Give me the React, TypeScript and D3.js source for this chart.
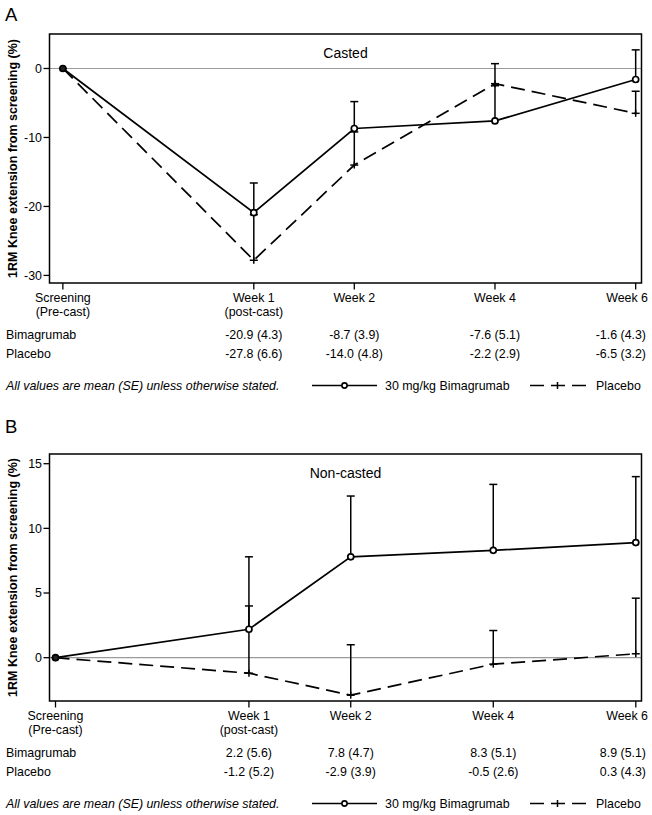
import React from "react";
import * as d3 from "d3";

// ---- data ----
const visitLabels: string[][] = [
  ["Screening", "(Pre-cast)"],
  ["Week 1", "(post-cast)"],
  ["Week 2"],
  ["Week 4"],
  ["Week 6"],
];
const visitDays: number[] = [-15, 4, 14, 28, 42];

const castedBim: number[] = [0, -20.9, -8.7, -7.6, -1.6];
const castedBimSE: number[] = [0, 4.3, 3.9, 5.1, 4.3];
const castedPbo: number[] = [0, -27.8, -14.0, -2.2, -6.5];
const castedPboSE: number[] = [0, 6.6, 4.8, 2.9, 3.2];

const nonBim: number[] = [0, 2.2, 7.8, 8.3, 8.9];
const nonBimSE: number[] = [0, 5.6, 4.7, 5.1, 5.1];
const nonPbo: number[] = [0, -1.2, -2.9, -0.5, 0.3];
const nonPboSE: number[] = [0, 5.2, 3.9, 2.6, 4.3];

const castedTicks: number[] = [0, -10, -20, -30];
const nonTicks: number[] = [0, 5, 10, 15];

const FONT = "'Liberation Sans', Arial, Helvetica, sans-serif";
const FS = 12.4;

type PanelProps = {
  letter: string;
  letterY: number;
  title: string;
  top: number;
  bottom: number;
  yDomain: [number, number];
  xDomain: [number, number];
  yTicks: number[];
  bim: number[];
  bimSE: number[];
  pbo: number[];
  pboSE: number[];
};

const LEFT = 49.5;
const RIGHT = 641.5;

function fmt(v: number, se: number) {
  return `${v.toFixed(1)} (${se.toFixed(1)})`;
}

function Panel(p: PanelProps) {
  const x = d3.scaleLinear().domain(p.xDomain).range([LEFT, RIGHT]);
  const y = d3.scaleLinear().domain(p.yDomain).range([p.bottom, p.top]);
  const pts = (vals: number[]) => vals.map((v, i) => [x(visitDays[i]), y(v)] as [number, number]);
  const line = d3.line();
  const bimPts = pts(p.bim);
  const pboPts = pts(p.pbo);
  const lastIdx = visitDays.length - 1;

  const errBar = (vals: number[], ses: number[], key: string) =>
    vals.map((v, i) => {
      if (i === 0) return null;
      const xx = x(visitDays[i]);
      const y0 = y(v);
      const y1 = y(v + ses[i]);
      return (
        <g key={key + i}>
          <line x1={xx} x2={xx} y1={y0} y2={y1} stroke="#000" strokeWidth={1.5} />
          <line x1={xx - 4} x2={xx + 4} y1={y1} y2={y1} stroke="#000" strokeWidth={1.5} />
        </g>
      );
    });

  const axisLabelY = p.bottom + 15;
  const rowBimY = p.bottom + 52;
  const rowPboY = p.bottom + 70.5;
  const footY = p.bottom + 102.5;
  const midY = (p.top + p.bottom) / 2;

  const labelX = (i: number) => (i === lastIdx ? 648 : x(visitDays[i]));
  const valX = (i: number) => (i === lastIdx ? 646 : x(visitDays[i]));
  const anchor = (i: number) => (i === lastIdx ? "end" : "middle");

  return (
    <g fontFamily={FONT}>
      <text x={5} y={p.letterY} fontSize={18.5} fill="#000">{p.letter}</text>
      {/* zero reference */}
      <line x1={LEFT} x2={RIGHT} y1={y(0)} y2={y(0)} stroke="#9a9a9a" strokeWidth={1.2} />
      <text x={(LEFT + RIGHT) / 2} y={p.top + 19} dy="0.35em" fontSize={14} textAnchor="middle">{p.title}</text>
      {/* lines */}
      <path d={line(bimPts) || ""} fill="none" stroke="#000" strokeWidth={1.7} />
      <path d={line(pboPts) || ""} fill="none" stroke="#000" strokeWidth={1.7} strokeDasharray="14 7" />
      {errBar(p.pbo, p.pboSE, "pe")}
      {errBar(p.bim, p.bimSE, "be")}
      {/* markers */}
      {pboPts.map(([px, py], i) => (
        <g key={"pm" + i}>
          <line x1={px - 4} x2={px + 4} y1={py} y2={py} stroke="#000" strokeWidth={1.5} />
          <line x1={px} x2={px} y1={py - 3.5} y2={py + 3.5} stroke="#000" strokeWidth={1.5} />
        </g>
      ))}
      {bimPts.map(([px, py], i) => (
        <circle key={"bm" + i} cx={px} cy={py} r={3} fill={i === 0 ? "#222" : "#fff"} stroke="#000" strokeWidth={1.7} />
      ))}
      {/* frame */}
      <rect x={LEFT} y={p.top} width={RIGHT - LEFT} height={p.bottom - p.top} fill="none" stroke="#000" strokeWidth={1.5} />
      {/* y ticks */}
      {p.yTicks.map((t) => (
        <g key={"yt" + t}>
          <line x1={LEFT - 6} x2={LEFT} y1={y(t)} y2={y(t)} stroke="#000" strokeWidth={1.3} />
          <text x={LEFT - 7.5} y={y(t)} dy="0.35em" fontSize={FS} textAnchor="end">{t}</text>
        </g>
      ))}
      <text
        transform={`translate(13,${midY}) rotate(-90)`}
        dy="0.35em"
        fontSize={12.5}
        fontWeight="bold"
        textAnchor="middle"
      >
        1RM Knee extension from screening (%)
      </text>
      {/* x ticks */}
      {visitDays.map((d, i) => (
        <g key={"xt" + i}>
          <line x1={x(d)} x2={x(d)} y1={p.bottom} y2={p.bottom + 6.5} stroke="#000" strokeWidth={1.3} />
          {visitLabels[i].map((s, j) => (
            <text key={j} x={labelX(i)} y={axisLabelY + j * 14} dy="0.35em" fontSize={FS} textAnchor={anchor(i)}>{s}</text>
          ))}
          {i > 0 && (
            <>
              <text x={valX(i)} y={rowBimY} dy="0.35em" fontSize={FS} textAnchor={anchor(i)}>{fmt(p.bim[i], p.bimSE[i])}</text>
              <text x={valX(i)} y={rowPboY} dy="0.35em" fontSize={FS} textAnchor={anchor(i)}>{fmt(p.pbo[i], p.pboSE[i])}</text>
            </>
          )}
        </g>
      ))}
      <text x={6} y={rowBimY} dy="0.35em" fontSize={FS}>Bimagrumab</text>
      <text x={6} y={rowPboY} dy="0.35em" fontSize={FS}>Placebo</text>
      {/* footnote & legend */}
      <text x={6} y={footY} dy="0.35em" fontSize={FS} fontStyle="italic">All values are mean (SE) unless otherwise stated.</text>
      <line x1={312} x2={377} y1={footY} y2={footY} stroke="#000" strokeWidth={1.7} />
      <circle cx={344.5} cy={footY} r={2.6} fill="#fff" stroke="#000" strokeWidth={1.6} />
      <text x={385} y={footY} dy="0.35em" fontSize={FS}>30 mg/kg Bimagrumab</text>
      <line x1={530} x2={587} y1={footY} y2={footY} stroke="#000" strokeWidth={1.7} strokeDasharray="14 7" />
      <line x1={557.5} x2={557.5} y1={footY - 3.5} y2={footY + 3.5} stroke="#000" strokeWidth={1.5} />
      <text x={596} y={footY} dy="0.35em" fontSize={FS}>Placebo</text>
    </g>
  );
}

export default function App() {
  return (
    <svg width={652} height={815} style={{ position: "absolute", left: 0, top: 0, background: "#fff" }}>
      <rect width={652} height={815} fill="#fff" />
      <Panel
        letter="A"
        letterY={21}
        title="Casted"
        top={34}
        bottom={283}
        yDomain={[-31.1, 5]}
        xDomain={[-16.33, 42.58]}
        yTicks={castedTicks}
        bim={castedBim}
        bimSE={castedBimSE}
        pbo={castedPbo}
        pboSE={castedPboSE}
      />
      <Panel
        letter="B"
        letterY={433}
        title="Non-casted"
        top={454}
        bottom={701}
        yDomain={[-3.35, 15.75]}
        xDomain={[-15.59, 42.56]}
        yTicks={nonTicks}
        bim={nonBim}
        bimSE={nonBimSE}
        pbo={nonPbo}
        pboSE={nonPboSE}
      />
    </svg>
  );
}
